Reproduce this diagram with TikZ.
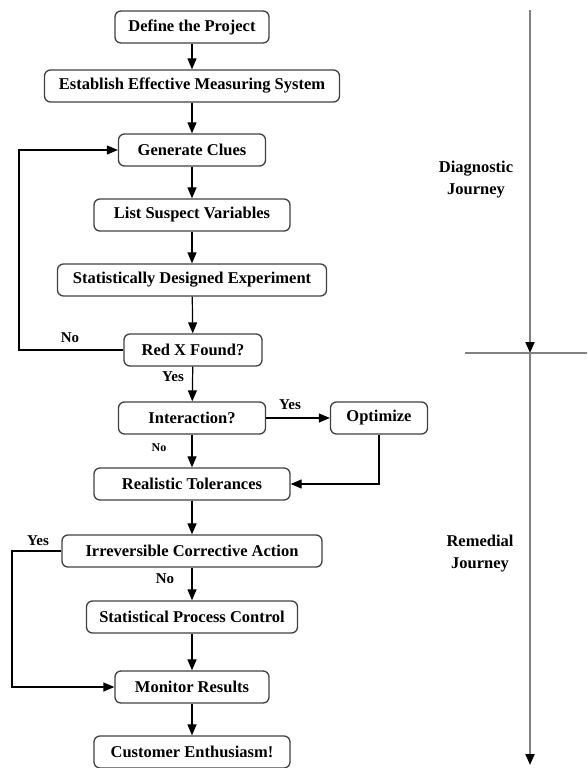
\documentclass[tikz,border=0pt]{standalone}
\usepackage{fontspec}
\setmainfont{Liberation Serif}
\usetikzlibrary{arrows.meta, positioning, calc}
\tikzstyle{caja} = [draw=black!75, line width=1.3pt, rectangle, rounded corners=6pt, minimum height=32pt, inner xsep=0pt, font=\bfseries\fontsize{16.5}{19}\selectfont]
\tikzstyle{flecha} = [line width=1.2pt, -{Triangle[length=11pt,width=9pt]}]
\tikzstyle{etiqueta} = [font=\bfseries\fontsize{15}{18}\selectfont]
\tikzstyle{eje} = [draw=black!50, line width=2pt, -{Triangle[length=11pt,width=9pt,color=black]}]

\begin{document}
\begin{tikzpicture}[x=1pt, y=-1pt]
	\useasboundingbox (0,0) rectangle (587,768);
	% pasos
	\node [caja, minimum width=154pt] (define) at (192,27) {Define the Project};
	\node [caja, minimum width=295pt] (measure) at (192,86) {Establish Effective Measuring System};
	\node [caja, minimum width=147pt] (clues) at (192,150) {Generate Clues};
	\node [caja, minimum width=196pt] (suspect) at (192,215) {List Suspect Variables};
	\node [caja, minimum width=269pt] (doe) at (192,280) {Statistically Designed Experiment};
	\node [caja, minimum width=138pt] (redx) at (193,350) {Red X Found?};
	\node [caja, minimum width=147pt] (interaction) at (192,418) {Interaction?};
	\node [caja, minimum width=97pt] (optimize) at (379,418) {Optimize};
	\node [caja, minimum width=196pt] (tolerances) at (192,484) {Realistic Tolerances};
	\node [caja, minimum width=260pt] (corrective) at (192,551) {Irreversible Corrective Action};
	\node [caja, minimum width=211pt] (spc) at (192,617) {Statistical Process Control};
	\node [caja, minimum width=154pt] (monitor) at (192,687) {Monitor Results};
	\node [caja, minimum width=196pt] (customer) at (192,752) {Customer Enthusiasm!};

	\draw [flecha] (define) -- (measure);
	\draw [flecha] (measure) -- (clues);
	\draw [flecha] (clues) -- (suspect);
	\draw [flecha] (suspect) -- (doe);
	\draw [flecha] (doe) -- (redx);
	\draw [flecha] (redx) -- (interaction);
	\draw [flecha] (interaction) -- (tolerances);
	\draw [flecha] (tolerances) -- (corrective);
	\draw [flecha] (corrective) -- (spc);
	\draw [flecha] (spc) -- (monitor);
	\draw [flecha] (monitor) -- (customer);
	\draw [flecha] (interaction) -- (optimize);
	\draw [flecha] (optimize.south) |- (tolerances.east);
	\draw [flecha] (redx.west) -- (19,350) |- (clues.west);
	\draw [flecha] (corrective.west) -- (12,551) |- (monitor.west);

	\node [etiqueta] (noloop) at (70,338) {No};
	\node [etiqueta] (yesredx) at (173,377) {Yes};
	\node [etiqueta] (yesinter) at (290,405) {Yes};
	\node [etiqueta, font=\bfseries\fontsize{12}{14}\selectfont] (nointer) at (159,448) {No};
	\node [etiqueta] (yesloop) at (38,541) {Yes};
	\node [etiqueta] (nocorr) at (165,579) {No};

	% recorrido
	\coordinate (top) at (530,10);
	\coordinate (mid) at (530,353);
	\coordinate (bottom) at (530,765);
	\draw [eje] (top) -- (mid);
	\draw [eje] (mid) -- (bottom);
	\draw [draw=black!50, line width=2pt] (465,353) -- (587,353);
	\node [etiqueta, align=center, font=\bfseries\fontsize{16.5}{22}\selectfont] (diag) at (476,180) {Diagnostic\\Journey};
	\node [etiqueta, align=center, font=\bfseries\fontsize{16.5}{22}\selectfont] (remed) at (480,554) {Remedial\\Journey};
\end{tikzpicture}
\end{document}
